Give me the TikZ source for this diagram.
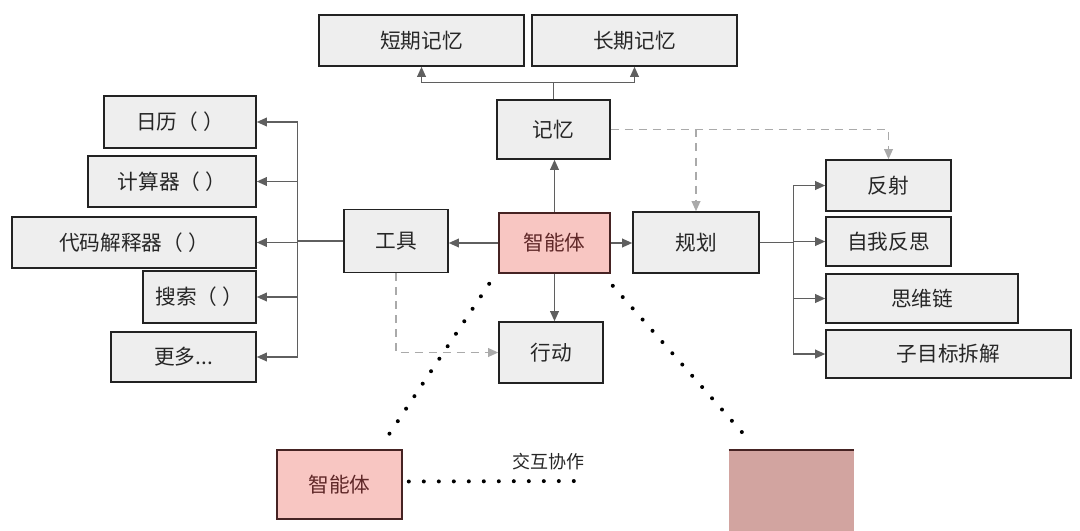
\documentclass[tikz,border=0pt]{standalone}
\usepackage{fontspec}
\newfontfamily\cjk{Noto Sans CJK SC}
\usetikzlibrary{arrows.meta, calc}
\definecolor{boxc}{RGB}{238,238,238}
\definecolor{edgec}{RGB}{34,34,34}
\definecolor{agentc}{RGB}{248,198,194}
\definecolor{agedge}{RGB}{70,35,35}
\definecolor{agtxt}{RGB}{95,40,40}
\definecolor{linec}{RGB}{95,95,95}
\definecolor{dashc}{RGB}{170,170,170}
\definecolor{fadec}{RGB}{210,164,160}
\tikzset{
  box/.style={draw=edgec, line width=1.2pt, fill=boxc, inner sep=0pt,
              font=\cjk\fontsize{15.5}{18}\selectfont, text=black!85},
  agentbox/.style={box, fill=agentc, draw=agedge, text=agtxt},
  link/.style={draw=linec, line width=1pt, -{Triangle[length=7.5pt, width=6.5pt]}},
  plain/.style={draw=linec, line width=1pt},
  dashlink/.style={draw=dashc, line width=1pt, dash pattern=on 6pt off 4.5pt,
                   -{Triangle[length=7.5pt, width=6.5pt]}},
  dotline/.style={line width=3pt, line cap=round, dash pattern=on 0pt off 11.25pt},
}

\begin{document}
\begin{tikzpicture}[x=0.75pt, y=-0.75pt]
  \useasboundingbox[fill=white] (0,0) rectangle (1080,531);

  % memory
  \node[box, minimum width=153.75pt, minimum height=38.25pt] (stm) at (421.5,40.5) {短期记忆};
  \node[box, minimum width=153.75pt, minimum height=38.25pt] (ltm) at (634.5,40.5) {长期记忆};
  \node[box, minimum width=84.75pt, minimum height=44.25pt] (mem) at (553.5,129.5) {记忆};

  % tools
  \node[box, minimum width=114pt, minimum height=39pt] (cal) at (180,122) {日历（\hspace{4pt}）};
  \node[box, minimum width=126pt, minimum height=38.25pt] (calc) at (172,181.5) {计算器（\hspace{4pt}）};
  \node[box, minimum width=183pt, minimum height=38.25pt] (code) at (134,242.5) {代码解释器（\hspace{4pt}）};
  \node[box, minimum width=84.75pt, minimum height=39pt] (srch) at (199.5,297) {搜索（\hspace{4pt}）};
  \node[box, minimum width=108.75pt, minimum height=37.5pt] (more) at (183.5,357) {更多...};
  \node[box, minimum width=78pt, minimum height=47.25pt] (tools) at (396,241) {工具};

  % agent, action, planning
  \node[agentbox, minimum width=83.25pt, minimum height=45pt] (agent) at (554.5,243) {智能体};
  \node[box, minimum width=78pt, minimum height=45.75pt] (act) at (551,352.5) {行动};
  \node[box, minimum width=94.5pt, minimum height=45.75pt] (plan) at (696,242.5) {规划};
  \node[box, minimum width=93.75pt, minimum height=38.25pt] (refl) at (888.5,185.5) {反射};
  \node[box, minimum width=93.75pt, minimum height=36.75pt] (selfr) at (888.5,241.5) {自我反思};
  \node[box, minimum width=144pt, minimum height=36.75pt] (cot) at (922,298.5) {思维链};
  \node[box, minimum width=183.75pt, minimum height=36pt] (sub) at (948.5,354) {子目标拆解};

  % other agents
  \node[agentbox, minimum width=93.75pt, minimum height=51.75pt] (agent2) at (339.5,484.5) {智能体};
  \node[fill=fadec, inner sep=0pt, anchor=north, minimum width=93.75pt,
        minimum height=60.75pt] (agent3) at (791.5,450) {};
  \draw[agedge, line width=1.2pt] (agent3.north west) -- (agent3.north east);
  \node[font=\cjk\fontsize{13.5}{16}\selectfont, text=black!85] (collab) at (548,462) {交互协作};

  % branches
  \coordinate (mk) at ($(mem.north)+(0,-17)$);
  \draw[plain] (mem.north) -- (mk);
  \draw[link] (mk) -| (stm.south);
  \draw[link] (mk) -| (ltm.south);

  \coordinate (tk) at ($(tools.west)+(-46,0)$);
  \draw[plain] (tools.west) -- (tk);
  \foreach \n in {cal,calc,code,srch,more} \draw[link] (tk) |- (\n.east);

  \coordinate (pk) at ($(plan.east)+(34,0)$);
  \draw[plain] (plan.east) -- (pk);
  \foreach \n in {refl,selfr,cot,sub} \draw[link] (pk) |- (\n.west);

  \draw[link] (agent.west) -- (agent.west -| tools.east);
  \draw[link] (agent.east) -- (agent.east -| plan.west);
  \draw[link] (agent.north) -- (agent.north |- mem.south);
  \draw[link] (agent.south) -- (agent.south |- act.north);

  % dashed
  \draw[dashlink] (tools.south) |- (act.west);
  \draw[dashlink] (mem.east) -| (refl.north);
  \draw[dashlink] (mem.east -| plan.north) -- (plan.north);

  % dotted
  \coordinate (dl) at ($(agent.south west)+(-9,10)$);
  \coordinate (dr) at ($(agent.south east)+(2,12)$);
  \coordinate (de) at (587,481);
  \draw[dotline] (dl) -- ($(agent2.north east)+(-19,-7)$);
  \draw[dotline] (dr) -- ($(agent3.north west)+(21,-9)$);
  \draw[dotline] ($(agent2.east)+(6,-3)$) -- (de);
\end{tikzpicture}
\end{document}
